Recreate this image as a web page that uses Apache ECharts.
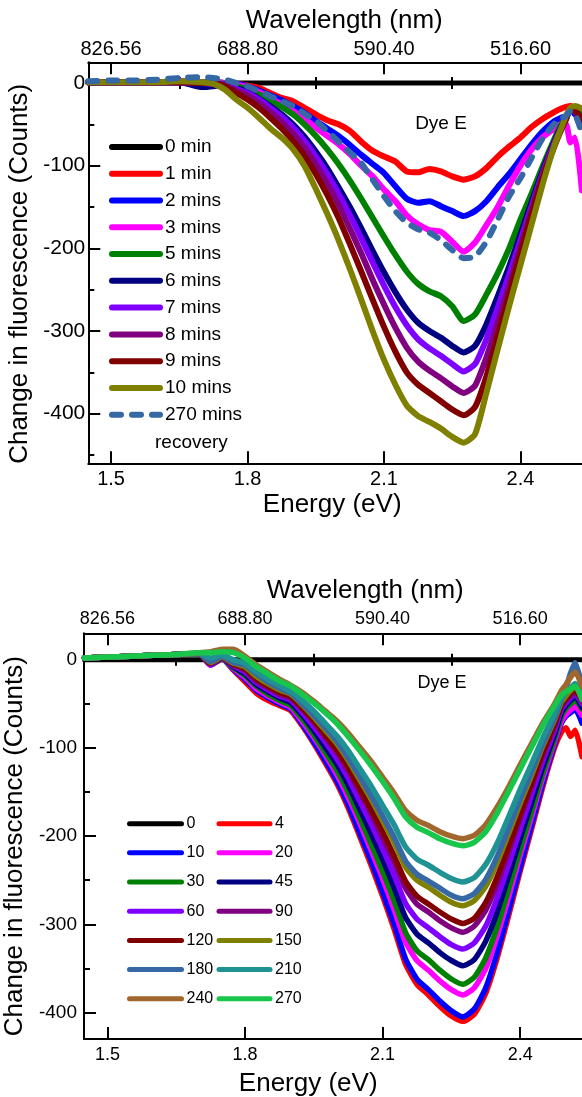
<!DOCTYPE html>
<html>
<head>
<meta charset="utf-8">
<script src="https://cdn.jsdelivr.net/npm/echarts@6/dist/echarts.min.js"></script>
<style>
  html, body { margin: 0; padding: 0; background: #ffffff; }
  #chart { width: 582px; height: 1097px; }
</style>
</head>
<body>
<div id="chart"></div>
<script>
// Photon energy grid (eV) shared by every spectrum
const energy = [1.45, 1.5, 1.55, 1.6, 1.65, 1.7, 1.725, 1.75, 1.775, 1.8,
  1.825, 1.85, 1.875, 1.9, 1.925, 1.95, 1.975, 2.0, 2.025, 2.05,
  2.075, 2.1, 2.125, 2.15, 2.175, 2.2, 2.225, 2.25, 2.275, 2.3,
  2.325, 2.35, 2.375, 2.4, 2.425, 2.45, 2.475, 2.49, 2.5, 2.51,
  2.52, 2.535];

// Reference (0 min / 0) baseline
const baselineEnergy = [1.45, 2.575];
const baselineCounts = [0, 0];

// Tick positions and labels
const energyTicks = [1.5, 1.8, 2.1, 2.4];
const energyMinorTicks = [1.65, 1.95, 2.25, 2.55];
const wavelengthLabels = ['826.56', '688.80', '590.40', '516.60'];
const countTicks = [0, -100, -200, -300, -400];
const upperCountMinor = [-50, -150, -250, -350, -450];
const lowerCountMinor = [-50, -150, -250, -350];

// Upper panel: change in fluorescence after each exposure time
const upper1 = [1, 1, 1, 1, 2, 1, 1, 0, -1, -3,
  -6, -12, -18, -22, -30, -38, -45, -50, -58, -71,
  -82, -89, -95, -107, -108, -104, -107, -113, -117, -113,
  -103, -89, -77, -66, -53, -43, -35, -31, -29, -28,
  -31, -38];
const upper2 = [1, 1, 1, 1, 2, 1, 1, 0, -1, -4,
  -9, -15, -21, -28, -36, -46, -55, -64, -75, -87,
  -98, -109, -125, -140, -145, -143, -149, -155, -161, -155,
  -143, -126, -110, -92, -74, -58, -46, -42, -40, -32,
  -38, -48];
const upper3 = [1, 1, 1, 1, 2, 1, 1, 0, -2, -5,
  -11, -18, -26, -34, -43, -54, -64, -74, -86, -100,
  -113, -129, -143, -160, -171, -178, -180, -192, -204, -193,
  -172, -150, -124, -100, -80, -65, -55, -50, -50, -72,
  -66, -130];
const upper5 = [1, 1, 1, 1, 1, 1, 0, -1, -4, -8,
  -14, -21, -29, -38, -50, -64, -80, -98, -118, -140,
  -163, -186, -208, -228, -243, -252, -258, -270, -288, -280,
  -256, -230, -200, -165, -133, -99, -67, -50, -42, -32,
  -30, -40];
const upper6 = [1, 1, 1, 1, 1, -5, -4, -2, -6, -11,
  -19, -28, -38, -50, -65, -83, -103, -126, -150, -176,
  -203, -229, -253, -274, -290, -300, -308, -318, -326, -318,
  -292, -258, -222, -183, -143, -104, -70, -52, -42, -32,
  -34, -44];
const upper7 = [1, 1, 1, 1, 1, 0, -1, -2, -7, -12,
  -20, -30, -41, -54, -70, -89, -110, -134, -160, -188,
  -217, -245, -271, -293, -310, -321, -330, -340, -349, -340,
  -310, -272, -232, -190, -148, -107, -72, -54, -43, -31,
  -34, -46];
const upper8 = [1, 1, 1, 1, 1, 0, -1, -3, -9, -15,
  -24, -35, -47, -61, -78, -98, -121, -147, -176, -206,
  -238, -268, -296, -320, -337, -348, -357, -367, -375, -366,
  -332, -290, -245, -198, -153, -110, -74, -55, -44, -31,
  -35, -48];
const upper9 = [1, 1, 1, 1, 1, 0, 0, -4, -12, -20,
  -30, -42, -55, -70, -88, -110, -135, -163, -195, -228,
  -262, -295, -325, -350, -365, -375, -385, -395, -402, -392,
  -355, -305, -255, -205, -157, -113, -76, -56, -44, -31,
  -33, -44];
const upper10 = [1, 1, 1, 1, 2, 1, -1, -8, -20, -30,
  -42, -55, -66, -80, -100, -128, -158, -190, -225, -262,
  -300, -335, -365, -390, -403, -410, -418, -428, -435, -425,
  -375, -322, -270, -220, -170, -120, -75, -54, -40, -30,
  -28, -31];
const upper270 = [2, 3, 3, 4, 6, 7, 6, 4, 0, -4,
  -10, -16, -22, -28, -37, -46, -58, -71, -84, -97,
  -117, -137, -155, -169, -177, -181, -190, -202, -212, -210,
  -192, -165, -137, -115, -90, -66, -49, -43, -40, -34,
  -38, -60];

// Lower panel: change in fluorescence at each time point (min)
const lower4 = [2, 3, 4, 5, 6, 7, -6, 1, -12, -25,
  -38, -46, -52, -58, -75, -95, -117, -140, -168, -200,
  -233, -268, -305, -345, -368, -380, -393, -404, -410, -402,
  -378, -338, -290, -240, -192, -143, -100, -82, -77, -87,
  -80, -110];
const lower10 = [2, 3, 4, 5, 6, 7, -6, 1, -11, -22,
  -35, -43, -50, -56, -73, -93, -114, -137, -164, -196,
  -228, -263, -299, -339, -362, -374, -387, -398, -405, -396,
  -372, -332, -284, -235, -187, -139, -96, -72, -64, -60,
  -56, -72];
const lower20 = [2, 3, 4, 5, 6, 7, -6, 1, -10, -20,
  -33, -41, -48, -54, -70, -88, -108, -130, -156, -185,
  -216, -248, -283, -320, -341, -352, -364, -374, -380, -372,
  -350, -313, -269, -222, -178, -133, -93, -70, -62, -57,
  -53, -63];
const lower30 = [2, 3, 4, 5, 6, 7, -5, 1, -9, -18,
  -30, -39, -46, -52, -67, -85, -105, -125, -150, -179,
  -209, -240, -273, -309, -330, -340, -352, -362, -368, -360,
  -338, -303, -260, -215, -172, -128, -90, -64, -55, -50,
  -46, -56];
const lower45 = [2, 3, 4, 5, 6, 7, -5, 2, -8, -16,
  -28, -36, -43, -49, -63, -80, -99, -118, -142, -169,
  -197, -226, -258, -292, -311, -321, -332, -341, -347, -340,
  -319, -286, -245, -203, -162, -121, -85, -60, -52, -46,
  -42, -54];
const lower60 = [2, 3, 4, 5, 6, 7, -5, 2, -7, -14,
  -26, -34, -41, -46, -60, -76, -93, -112, -134, -160,
  -186, -214, -244, -276, -294, -304, -314, -323, -328, -321,
  -302, -270, -232, -192, -153, -114, -80, -56, -49, -43,
  -39, -50];
const lower90 = [2, 3, 4, 5, 6, 7, -4, 2, -6, -12,
  -24, -32, -39, -44, -56, -71, -88, -105, -126, -150,
  -175, -202, -229, -259, -277, -286, -296, -304, -309, -302,
  -284, -254, -218, -180, -144, -108, -75, -53, -46, -41,
  -37, -48];
const lower120 = [2, 3, 4, 5, 6, 7, -4, 3, -5, -10,
  -22, -30, -37, -42, -55, -69, -85, -102, -122, -146,
  -170, -195, -222, -251, -268, -277, -286, -294, -299, -293,
  -275, -246, -211, -175, -140, -104, -73, -51, -44, -38,
  -34, -45];
const lower150 = [2, 3, 4, 5, 6, 7, -3, 3, -4, -8,
  -19, -27, -34, -39, -51, -65, -80, -95, -114, -136,
  -158, -182, -207, -235, -250, -258, -267, -275, -279, -273,
  -257, -230, -197, -163, -131, -97, -68, -48, -41, -35,
  -30, -41];
const lower180 = [2, 3, 4, 5, 6, 7, -2, 4, -3, -6,
  -16, -25, -32, -38, -50, -63, -77, -92, -111, -132,
  -154, -177, -201, -228, -243, -251, -259, -267, -271, -265,
  -249, -223, -191, -158, -127, -94, -66, -45, -32, -15,
  -3, -30];
const lower210 = [2, 3, 4, 5, 6, 7, 2, 5, 0, -4,
  -14, -22, -29, -36, -46, -58, -72, -86, -103, -123,
  -143, -165, -187, -212, -226, -233, -241, -248, -252, -247,
  -232, -208, -178, -147, -118, -88, -61, -44, -37, -32,
  -27, -38];
const lower240 = [2, 3, 4, 5, 6, 8, 9, 12, 12, 4,
  -6, -14, -22, -29, -37, -47, -58, -69, -83, -99,
  -115, -133, -151, -171, -182, -188, -195, -200, -203, -199,
  -187, -167, -144, -119, -95, -71, -50, -35, -28, -20,
  -14, -30];
const lower270 = [2, 3, 4, 5, 6, 8, 8, 9, 8, 2,
  -8, -16, -24, -30, -39, -49, -60, -72, -87, -103,
  -120, -138, -157, -178, -190, -196, -203, -208, -211, -207,
  -195, -174, -149, -124, -99, -74, -52, -40, -36, -33,
  -30, -45];

const FONT = '"Liberation Sans", Arial, Helvetica, sans-serif';

// name, values, colour, dashed
const upperSeries = [
  ['0 min', null, '#000000'],
  ['1 min', upper1, '#ff0000'],
  ['2 mins', upper2, '#0000ff'],
  ['3 mins', upper3, '#ff00ff'],
  ['5 mins', upper5, '#008000'],
  ['6 mins', upper6, '#000080'],
  ['7 mins', upper7, '#8000ff'],
  ['8 mins', upper8, '#800080'],
  ['9 mins', upper9, '#800000'],
  ['10 mins', upper10, '#808000'],
  ['270 mins', upper270, '#3568a4', true]
];
const lowerSeries = [
  ['0', null, '#000000'],
  ['4', lower4, '#ff0000'],
  ['10', lower10, '#0000ff'],
  ['20', lower20, '#ff00ff'],
  ['30', lower30, '#008000'],
  ['45', lower45, '#000080'],
  ['60', lower60, '#8000ff'],
  ['90', lower90, '#800080'],
  ['120', lower120, '#800000'],
  ['150', lower150, '#808000'],
  ['180', lower180, '#3568a4'],
  ['210', lower210, '#1f9393'],
  ['240', lower240, '#a0662b'],
  ['270', lower270, '#17c64a']
];

function nearestIndex(list, v) {
  let best = 0;
  for (let i = 1; i < list.length; i++) {
    if (Math.abs(list[i] - v) < Math.abs(list[best] - v)) best = i;
  }
  return best;
}

function panelXAxes(grid, o) {
  const line = { show: true, onZero: false, lineStyle: { color: '#000', width: 2 } };
  const tick = (vals, len) => ({ show: true, inside: true, length: len, customValues: vals, lineStyle: { color: '#000', width: 2 } });
  const nameStyle = (pad) => ({ fontSize: 26, lineHeight: 26, color: '#000', fontFamily: FONT, padding: pad });
  return [
    {
      gridIndex: grid, type: 'value', position: 'bottom', min: o.min, max: o.max,
      axisLine: line, axisTick: tick(energyTicks, 12), splitLine: { show: false },
      axisLabel: { show: true, customValues: energyTicks, formatter: v => v.toFixed(1),
        fontSize: o.fs, margin: o.bottomMargin, color: '#000', fontFamily: FONT },
      name: 'Energy (eV)', nameLocation: 'middle', nameGap: o.energyGap, nameTextStyle: nameStyle(o.energyPad)
    },
    {
      gridIndex: grid, type: 'value', position: 'bottom', min: o.min, max: o.max,
      axisLine: { show: false }, axisTick: tick(energyMinorTicks, 6),
      axisLabel: { show: false }, splitLine: { show: false }
    },
    {
      gridIndex: grid, type: 'value', position: 'top', min: o.min, max: o.max,
      axisLine: line, axisTick: tick(energyTicks, 12), splitLine: { show: false },
      axisLabel: { show: true, customValues: energyTicks,
        formatter: v => wavelengthLabels[nearestIndex(energyTicks, v)],
        fontSize: o.fs, margin: o.topMargin, color: '#000', fontFamily: FONT },
      name: 'Wavelength (nm)', nameLocation: 'middle', nameGap: o.waveGap, nameTextStyle: nameStyle(o.wavePad)
    },
    {
      gridIndex: grid, type: 'value', position: 'top', min: o.min, max: o.max,
      axisLine: { show: false }, axisTick: tick(energyMinorTicks, 6),
      axisLabel: { show: false }, splitLine: { show: false }
    }
  ];
}

function panelYAxes(grid, o) {
  const tick = (vals, len) => ({ show: true, inside: true, length: len, customValues: vals, lineStyle: { color: '#000', width: 2 } });
  return [
    {
      gridIndex: grid, type: 'value', position: 'left', min: o.min, max: o.max,
      axisLine: { show: true, onZero: false, lineStyle: { color: '#000', width: 2 } },
      axisTick: tick(countTicks, 12), splitLine: { show: false },
      axisLabel: { show: true, customValues: countTicks, fontSize: o.fs, margin: o.margin, color: '#000', fontFamily: FONT },
      name: 'Change in fluorescence (Counts)', nameLocation: 'middle', nameGap: o.nameGap, nameRotate: 90,
      nameTextStyle: { fontSize: 26, lineHeight: 26, color: '#000', fontFamily: FONT, padding: o.namePad }
    },
    {
      gridIndex: grid, type: 'value', position: 'left', min: o.min, max: o.max,
      axisLine: { show: false }, axisTick: tick(o.minor, 6),
      axisLabel: { show: false }, splitLine: { show: false }
    }
  ];
}

function buildSeries(list, panel, width) {
  return list.map(([name, values, color, dashed]) => {
    const xs = values ? energy : baselineEnergy;
    const ys = values ? values : baselineCounts;
    return {
      type: 'line', name: name,
      xAxisIndex: panel * 4, yAxisIndex: panel * 2,
      data: xs.map((x, i) => [x, ys[i]]),
      symbol: 'none', showSymbol: false, smooth: 0.2,
      lineStyle: { color: color, width: values ? width : 5, cap: 'round', join: 'round',
        type: dashed ? [9, 11] : 'solid' },
      itemStyle: { color: color },
      emphasis: { disabled: true }, silent: true, animation: false
    };
  });
}

function legendBlock(names, left, top, itemWidth, itemGap, lineWidth, text) {
  return {
    orient: 'vertical', left: left, top: top, padding: 0,
    itemWidth: itemWidth, itemHeight: 14, itemGap: itemGap,
    data: names, selectedMode: false,
    lineStyle: { width: lineWidth },
    itemStyle: { opacity: 0, borderWidth: 0 },
    textStyle: Object.assign({ color: '#000', fontFamily: FONT }, text)
  };
}

const chart = echarts.init(document.getElementById('chart'), null, { renderer: 'canvas' });

chart.setOption({
  backgroundColor: '#ffffff',
  animation: false,
  grid: [
    { left: 88.3, top: 62.3, height: 401, width: 511.8, containLabel: false, outerBoundsMode: 'none' },
    { left: 84, top: 633.3, height: 405.7, width: 516.4, containLabel: false, outerBoundsMode: 'none' }
  ],
  xAxis: [
    ...panelXAxes(0, { min: 1.45, max: 2.575, fs: 20, bottomMargin: 6, topMargin: 3,
      energyGap: 29, energyPad: [0, 24, 0, 0], waveGap: 28, wavePad: [0, 0, 0, 0] }),
    ...panelXAxes(1, { min: 1.449, max: 2.575, fs: 18, bottomMargin: 7, topMargin: 5,
      energyGap: 32, energyPad: [0, 68, 0, 0], waveGap: 29, wavePad: [0, 0, 0, 46] })
  ],
  yAxis: [
    ...panelYAxes(0, { min: -460, max: 25, fs: 21, margin: 3, minor: upperCountMinor, nameGap: 45, namePad: [0, 22, 0, 0] }),
    ...panelYAxes(1, { min: -430, max: 30, fs: 19, margin: 7, minor: lowerCountMinor, nameGap: 42, namePad: [0, 20, 0, 0] })
  ],
  legend: [
    legendBlock(upperSeries.map(s => s[0]), 109, 137, 48, 6.77, 6,
      { fontSize: 19, lineHeight: 20 }),
    legendBlock(['0', '10', '30', '60', '120', '180', '240'], 127, 811.2, 52, 4.17, 5,
      { fontSize: 16, lineHeight: 18, padding: [7, 0, 0, 0] }),
    legendBlock(['4', '20', '45', '90', '150', '210', '270'], 216.5, 811.2, 51, 4.17, 5,
      { fontSize: 16, lineHeight: 18, padding: [7, 0, 0, 0] })
  ],
  graphic: [
    { type: 'text', x: 441, y: 124, silent: true,
      style: { text: 'Dye E', font: '19px ' + FONT, fill: '#000', align: 'center', verticalAlign: 'middle' } },
    { type: 'text', x: 442, y: 683, silent: true,
      style: { text: 'Dye E', font: '18px ' + FONT, fill: '#000', align: 'center', verticalAlign: 'middle' } },
    { type: 'text', x: 155, y: 443, silent: true,
      style: { text: 'recovery', font: '19px ' + FONT, fill: '#000', align: 'left', verticalAlign: 'middle' } }
  ],
  series: [
    ...buildSeries(upperSeries, 0, 6),
    ...buildSeries(lowerSeries, 1, 5.5)
  ]
});
</script>
</body>
</html>
